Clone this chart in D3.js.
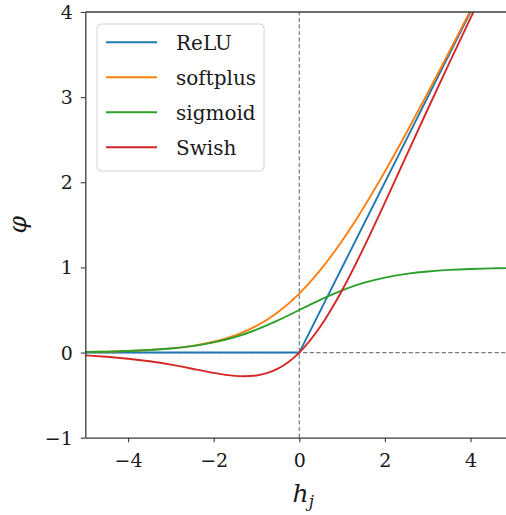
<!DOCTYPE html>
<html>
<head>
<meta charset="utf-8">
<script src="https://cdn.jsdelivr.net/npm/d3@7"></script>
<style>
  html, body { margin: 0; padding: 0; background: #fff; }
</style>
</head>
<body>
<svg id="chart" width="506" height="515"></svg>
<script>
// Sample points of each activation, tabulated every 0.5 on h_j
const hValues = [-5, -4.5, -4, -3.5, -3, -2.5, -2, -1.5, -1, -0.5, 0,
                 0.5, 1, 1.5, 2, 2.5, 3, 3.5, 4, 4.5, 5];
const reluH = [-5, 0, 5];
const reluValues = [0, 0, 5];
const softplusValues = [0.0067, 0.0110, 0.0181, 0.0298, 0.0486, 0.0789, 0.1269, 0.2014, 0.3133, 0.4741, 0.6931,
                        0.9741, 1.3133, 1.7014, 2.1269, 2.5789, 3.0486, 3.5298, 4.0181, 4.5110, 5.0067];
const sigmoidValues = [0.0067, 0.0110, 0.0180, 0.0293, 0.0474, 0.0759, 0.1192, 0.1824, 0.2689, 0.3775, 0.5,
                       0.6225, 0.7311, 0.8176, 0.8808, 0.9241, 0.9526, 0.9707, 0.9820, 0.9890, 0.9933];
const swishValues = [-0.0335, -0.0497, -0.0719, -0.1026, -0.1423, -0.1896, -0.2384, -0.2736, -0.2689, -0.1888, 0,
                     0.3112, 0.7311, 1.2264, 1.7616, 2.3104, 2.8577, 3.3974, 3.9281, 4.4503, 4.9665];
const seriesNames = ["ReLU", "softplus", "sigmoid", "Swish"];
const seriesColors = ["#1f77b4", "#ff7f0e", "#2ca02c", "#d62728"];
const xTicks = [-4, -2, 0, 2, 4];
const yTicks = [-1, 0, 1, 2, 3, 4];

const textSerif = "'DejaVu Serif', serif";

const svg = d3.select("#chart");
const plotLeft = 85.3, plotTop = 12, plotW = 428, plotH = 425.7;

const x = d3.scaleLinear().domain([-5, 5]).range([plotLeft, plotLeft + plotW]);
const y = d3.scaleLinear().domain([-1, 4]).range([plotTop + plotH, plotTop]);

svg.append("defs").append("clipPath").attr("id", "plot-clip")
  .append("rect").attr("x", plotLeft).attr("y", plotTop).attr("width", plotW).attr("height", plotH);

const plot = svg.append("g").attr("clip-path", "url(#plot-clip)");

// Reference lines through the origin
plot.append("line")
  .attr("x1", x(0)).attr("x2", x(0)).attr("y1", y(-1)).attr("y2", y(4))
  .attr("stroke", "#7a7a7a").attr("stroke-width", 1.2).attr("stroke-dasharray", "4.2,2.4");
plot.append("line")
  .attr("x1", x(-5)).attr("x2", x(5)).attr("y1", y(0)).attr("y2", y(0))
  .attr("stroke", "#7a7a7a").attr("stroke-width", 1.2).attr("stroke-dasharray", "4.2,2.4");

const series = [
  { name: seriesNames[0], color: seriesColors[0], pts: reluH.map((h, i) => [h, reluValues[i]]), curve: d3.curveLinear },
  { name: seriesNames[1], color: seriesColors[1], pts: hValues.map((h, i) => [h, softplusValues[i]]), curve: d3.curveNatural },
  { name: seriesNames[2], color: seriesColors[2], pts: hValues.map((h, i) => [h, sigmoidValues[i]]), curve: d3.curveNatural },
  { name: seriesNames[3], color: seriesColors[3], pts: hValues.map((h, i) => [h, swishValues[i]]), curve: d3.curveNatural }
];

series.forEach(s => {
  const line = d3.line().x(d => x(d[0])).y(d => y(d[1])).curve(s.curve);
  plot.append("path").attr("d", line(s.pts))
    .attr("fill", "none").attr("stroke", s.color).attr("stroke-width", 1.9)
    .attr("stroke-linejoin", "round");
});

// Axes
const axisColor = "#3a3a3a";
const fmt = d => (d < 0 ? "\u2212" + Math.abs(d) : String(d));

const xAxis = svg.append("g").attr("transform", `translate(0,${plotTop + plotH})`)
  .call(d3.axisBottom(x).tickValues(xTicks).tickFormat(fmt).tickSize(4.5).tickSizeOuter(0).tickPadding(11));
const yAxis = svg.append("g").attr("transform", `translate(${plotLeft},0)`)
  .call(d3.axisLeft(y).tickValues(yTicks).tickFormat(fmt).tickSize(4.5).tickSizeOuter(0).tickPadding(8));

[xAxis, yAxis].forEach(a => {
  a.attr("font-family", textSerif).attr("font-size", 19);
  a.select(".domain").attr("stroke", axisColor).attr("stroke-width", 1.3);
  a.selectAll(".tick line").attr("stroke", axisColor).attr("stroke-width", 1.1);
  a.selectAll(".tick text").attr("font-family", textSerif).attr("font-size", 19).attr("fill", "#1a1a1a");
});
xAxis.selectAll(".tick text").attr("dy", "0.71em");
yAxis.selectAll(".tick text").attr("dy", "0.34em");

// Top spine
svg.append("line").attr("x1", plotLeft).attr("x2", plotLeft + plotW).attr("y1", plotTop).attr("y2", plotTop)
  .attr("stroke", axisColor).attr("stroke-width", 1.3);

// Axis labels
const xl = svg.append("text").attr("x", x(0) + 4).attr("y", 502)
  .attr("text-anchor", "middle").attr("font-family", textSerif)
  .attr("font-size", 25).attr("font-style", "italic").attr("fill", "#1a1a1a");
xl.append("tspan").text("h");
xl.append("tspan").text("j").attr("font-size", 17).attr("dy", 5);

svg.append("text")
  .attr("transform", `translate(26,${y(1.5)}) rotate(-90)`)
  .attr("text-anchor", "middle").attr("font-family", textSerif)
  .attr("font-size", 25).attr("font-style", "italic").attr("fill", "#1a1a1a")
  .text("\u03c6");

// Legend
const lg = svg.append("g");
lg.append("rect").attr("x", 97).attr("y", 24).attr("width", 167).attr("height", 147)
  .attr("rx", 4).attr("fill", "#fff").attr("fill-opacity", 0.8)
  .attr("stroke", "#d4d4d4").attr("stroke-width", 1);
series.forEach((s, i) => {
  const ry = 42.3 + i * 35;
  lg.append("line").attr("x1", 106).attr("x2", 157).attr("y1", ry).attr("y2", ry)
    .attr("stroke", s.color).attr("stroke-width", 1.9);
  lg.append("text").attr("x", 176).attr("y", ry + 8)
    .attr("font-family", textSerif).attr("font-size", 20).attr("fill", "#1a1a1a")
    .text(s.name);
});
</script>
</body>
</html>
